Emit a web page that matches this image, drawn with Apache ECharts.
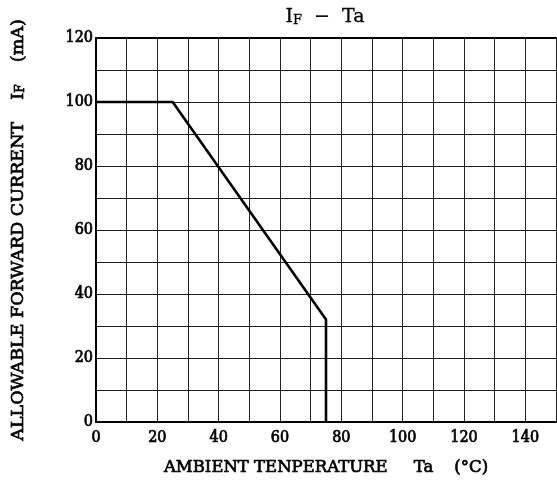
<!DOCTYPE html>
<html>
<head>
<meta charset="utf-8">
<script src="https://cdn.jsdelivr.net/npm/echarts@6/dist/echarts.min.js"></script>
<style>html,body{margin:0;padding:0;background:#fff}#c{width:557px;height:491px}</style>
</head>
<body>
<div id="c"></div>
<script>
var temps = [0, 25, 75, 75];
var currents = [100, 100, 32, 0];
var xTickLabels = [0, 20, 40, 60, 80, 100, 120, 140];
var yTickLabels = [0, 20, 40, 60, 80, 100, 120];

var fontC = '"DejaVu Serif Condensed", "DejaVu Serif", serif';
var fontW = '"DejaVu Serif", serif';
var stroke = {textBorderColor: '#000', textBorderWidth: 0.7};
function ts(o) { return Object.assign({}, stroke, o); }

var chart = echarts.init(document.getElementById('c'));
chart.setOption({
  animation: false,
  backgroundColor: '#fff',
  title: {
    text: '{a|I}{s|F}{a|  −  Ta}',
    left: 320, top: -2, textAlign: 'center',
    textStyle: {
      fontSize: 19,
      rich: {
        a: {fontFamily: fontW, fontSize: 19, fontWeight: 'normal', color: '#000', lineHeight: 24, verticalAlign: 'bottom', textBorderColor: '#000', textBorderWidth: 0.3},
        s: {fontFamily: fontW, fontSize: 13, fontWeight: 'normal', color: '#000', lineHeight: 13, verticalAlign: 'bottom', textBorderColor: '#000', textBorderWidth: 0.3}
      }
    }
  },
  grid: {left: 96, right: 1, top: 38, bottom: 69, containLabel: false},
  xAxis: [{
    type: 'value', min: 0, max: 150, interval: 10,
    name: 'AMBIENT TENPERATURE     Ta    (°C)',
    nameLocation: 'middle', nameGap: 37,
    nameTextStyle: ts({fontFamily: fontW, fontSize: 16.5, color: '#000'}),
    axisLine: {show: true, lineStyle: {color: '#000', width: 2}},
    axisTick: {show: false},
    axisLabel: ts({
      fontFamily: fontC, fontSize: 16, color: '#000', margin: 8,
      showMaxLabel: false,
      formatter: function (v) { return xTickLabels.indexOf(v) >= 0 ? String(v) : ''; }
    }),
    splitLine: {show: true, lineStyle: {color: '#222', width: 1}}
  }, {
    type: 'value', min: 0, max: 150, position: 'top',
    axisLine: {show: true, lineStyle: {color: '#000', width: 2}},
    axisTick: {show: false}, axisLabel: {show: false}, splitLine: {show: false}
  }],
  yAxis: {
    type: 'value', min: 0, max: 120, interval: 10,
    name: '{a|ALLOWABLE FORWARD CURRENT    I}{s|F}{a|    (mA)}',
    nameLocation: 'middle', nameGap: 69, nameRotate: 90,
    nameTextStyle: {
      rich: {
        a: ts({fontFamily: fontW, fontSize: 17.5, color: '#000', lineHeight: 20, verticalAlign: 'bottom'}),
        s: ts({fontFamily: fontW, fontSize: 12, color: '#000', lineHeight: 12, verticalAlign: 'bottom'})
      }
    },
    axisLine: {show: true, lineStyle: {color: '#000', width: 2}},
    axisTick: {show: false},
    axisLabel: ts({
      fontFamily: fontC, fontSize: 16, color: '#000', margin: 3,
      formatter: function (v) { return yTickLabels.indexOf(v) >= 0 ? String(v) : ''; }
    }),
    splitLine: {show: true, lineStyle: {color: '#222', width: 1}}
  },
  series: [{
    type: 'line',
    data: temps.map(function (t, i) { return [t, currents[i]]; }),
    symbol: 'none',
    lineStyle: {color: '#000', width: 2.6},
    z: 5
  }]
});
</script>
</body>
</html>
